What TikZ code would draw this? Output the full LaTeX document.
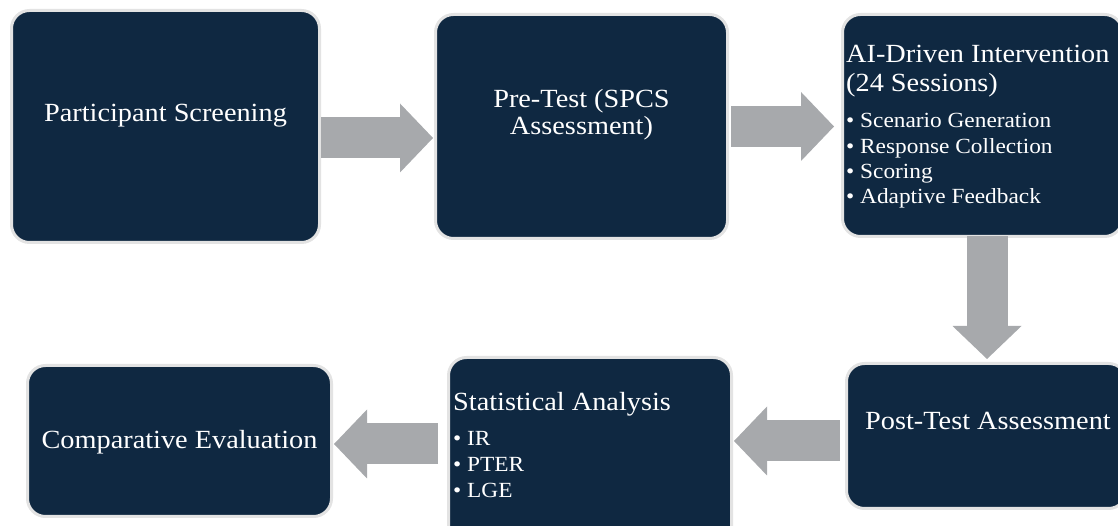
\documentclass[tikz,border=0pt]{standalone}
\usepackage{fontspec}
\setmainfont{Liberation Serif}[FakeStretch=1.08]
\usetikzlibrary{arrows.meta}

\definecolor{boxnavy}{HTML}{0F2841}
\definecolor{boxrim}{HTML}{E3E3E3}
\definecolor{flowgray}{HTML}{A7A9AC}

\tikzset{
  stage/.style={draw=boxrim, line width=3pt, fill=boxnavy, rounded corners=18pt,
    outer sep=0pt, inner sep=0pt},
  headtext/.style={text=white, font=\fontsize{26.2}{30}\selectfont, inner sep=0pt},
  itemtext/.style={text=white, font=\fontsize{21.6}{25}\selectfont, inner sep=0pt,
    anchor=base west},
  flow/.style={draw=flowgray, line width=41pt,
    -{Triangle[width=69pt,length=33pt,line width=0pt]}}
}

\begin{document}
\begin{tikzpicture}[x=1pt,y=1pt]
\useasboundingbox (0,0) rectangle (1118,526);

% stages
\node[stage, minimum width=308pt, minimum height=232pt] (scr) at (165.5,399.5) {};
\node[stage, minimum width=292pt, minimum height=224pt] (pre) at (581.5,399.5) {};
\node[stage, minimum width=280pt, minimum height=222pt] (ai) at (982.5,400.5) {};
\node[stage, minimum width=280pt, minimum height=145pt] (post) at (986.5,90) {};
\node[stage, minimum width=283pt, minimum height=189pt] (stat) at (590,74) {};
\node[stage, minimum width=304pt, minimum height=151pt] (comp) at (179.5,85) {};

% texts
\node[headtext, anchor=base] (scrtxt) at ([yshift=4.5pt]scr.center) {Participant Screening};
\node[headtext, anchor=base] (pretxt1) at (581.5,418) {Pre-Test (SPCS};
\node[headtext, anchor=base] (pretxt2) at (581.5,391) {Assessment)};
\node[headtext, anchor=base west] (aitxt1) at (846,463) {AI-Driven Intervention};
\node[headtext, anchor=base west] (aitxt2) at (846,434) {(24 Sessions)};
\foreach \lbl [count=\i] in {Scenario Generation, Response Collection, Scoring, Adaptive Feedback}
  \node[itemtext] (aiitem\i) at (846,{423.5-25.3*\i}) {\textbullet\ \lbl};
\node[headtext, anchor=base] (posttxt) at (988,96) {Post-Test Assessment};
\node[headtext, anchor=base west] (stattxt) at (453,115) {Statistical Analysis};
\foreach \lbl [count=\i] in {IR, PTER, LGE}
  \node[itemtext] (statitem\i) at (453,{106.5-26*\i}) {\textbullet\ \lbl};
\node[headtext, anchor=base] (comptxt) at (179.5,77) {Comparative Evaluation};

% flow arrows
\coordinate (a4s) at ([yshift=-5pt]post.west);
\coordinate (a5s) at ([yshift=8pt]stat.west);
\draw[flow, shorten <=1.5pt, shorten >=2.5pt] ([yshift=-11.5pt]scr.east) -- ([yshift=-11.5pt]pre.west);
\draw[flow, shorten <=3.5pt, shorten >=8.5pt] (pre.east) -- (pre.east -| ai.west);
\draw[flow, shorten >=4.5pt] ([xshift=4.5pt]ai.south) -- ([xshift=4.5pt]ai.south |- post.north);
\draw[flow, shorten <=6.5pt, shorten >=2.5pt] (a4s) -- (a4s -| stat.east);
\draw[flow, shorten <=10.5pt, shorten >=2.5pt] (a5s) -- (a5s -| comp.east);
\end{tikzpicture}
\end{document}
